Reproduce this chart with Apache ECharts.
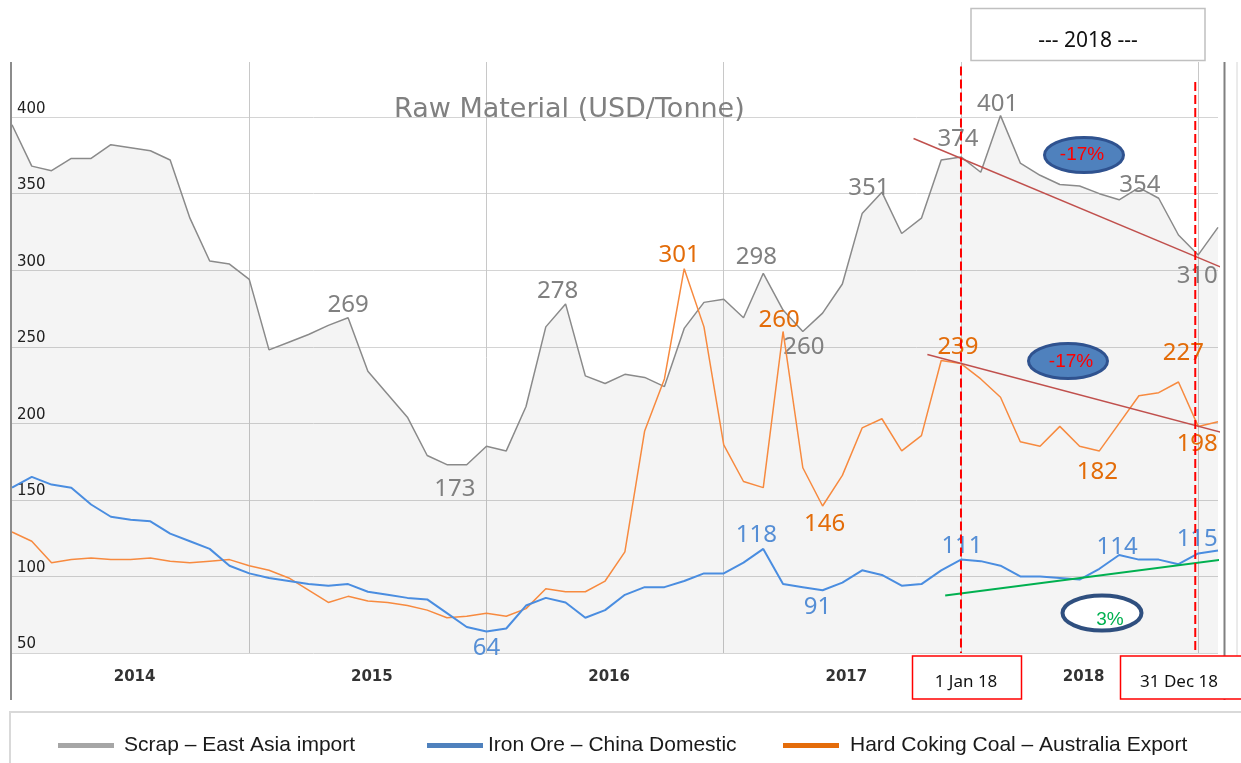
<!DOCTYPE html>
<html>
<head>
<meta charset="utf-8">
<title>Raw Material (USD/Tonne)</title>
<script src="https://cdn.jsdelivr.net/npm/echarts@6/dist/echarts.min.js"></script>
<style>
	html, body {
		width: 100%;
		height: 100%;
		margin: 0;
		padding: 0;
		background: #fff;
	}
	#main {
		width: 1241px;
		height: 763px;
	}
</style>
</head>
<body>
<div id="main"></div>
<script>
	// monthly categories, Jan 2014 .. Feb 2019
	var months = [];
	for (var y = 2014; y <= 2019; y++) {
		for (var m = 1; m <= 12; m++) {
			if (y === 2019 && m > 2) break;
			months.push(y + '-' + (m < 10 ? '0' + m : m));
		}
	}

	var names = ['Scrap – East Asia import', 'Iron Ore – China Domestic', 'Hard Coking Coal – Australia Export'];

	var scrap = [
		395, 368, 365, 373, 373, 382, 380, 378, 372, 334, 306, 304,
		294, 248, 253, 258, 264, 269, 234, 219, 204, 179, 173, 173,
		185, 182, 211, 263, 278, 231, 226, 232, 230, 224, 262, 279,
		281, 269, 298, 274, 260, 272, 291, 337, 351, 324, 334, 372,
		374, 364, 401, 370, 362, 356, 355, 350, 346, 354, 347, 323,
		310, 328
	];
	var ironOre = [
		158, 165, 160, 158, 147, 139, 137, 136, 128, 123, 118, 107,
		102, 99, 97, 95, 94, 95, 90, 88, 86, 85, 76, 67,
		64, 66, 81, 86, 83, 73, 78, 88, 93, 93, 97, 102,
		102, 109, 118, 95, 93, 91, 96, 104, 101, 94, 95, 104,
		111, 110, 107, 100, 100, 99, 98, 105, 114, 111, 111, 108,
		115, 117
	];
	var cokingCoal = [
		129, 123, 109, 111, 112, 111, 111, 112, 110, 109, 110, 111,
		107, 104, 99, 91, 83, 87, 84, 83, 81, 78, 73, 74,
		76, 74, 79, 92, 90, 90, 97, 116, 195, 229, 301, 263,
		186, 162, 158, 260, 171, 146, 166, 197, 203, 182, 192, 241,
		239, 229, 217, 188, 185, 198, 185, 182, 200, 218, 220, 227,
		198, 201
	];

	// annotation lines, in [month index, USD] space
	var scrapTrend = [[45.6, 386], [61.15, 302]];
	var coalTrend = [[46.3, 245], [61.8, 192]];
	var oreTrend = [[47.2, 87.5], [61.8, 112]];
	var startLine = [[48, 433], [48, 50]];
	var endLine = [[59.85, 423], [59.85, 50]];

	// which points carry a value label: index -> [position, dx, dy]
	var scrapLabels = {17: ['top', 0, 2], 22: ['bottom', 8, 5], 28: ['top', -8, 2], 38: ['top', -7, -1], 40: ['bottom', 1, -3],
		44: ['top', -13, 11], 48: ['top', -3, -3], 50: ['top', -3, 4], 57: ['top', 1, 13], 60: ['bottom', -1, 2]};
	var coalLabels = {34: ['top', -5, 1], 39: ['top', -4, 4], 41: ['bottom', 2, -1], 48: ['top', -3, -1],
		55: ['bottom', -2, 2], 59: ['top', 5, -14], 60: ['bottom', -1, -1]};
	var oreLabels = {24: ['bottom', 0, -2], 38: ['top', -7, 1], 41: ['bottom', -5, -2], 48: ['top', 1, 2],
		56: ['top', -2, 7], 60: ['top', -1, 1]};

	function labeled(values, spec, color) {
		return values.map(function(v, i) {
			var s = spec[i];
			if (!s) return v;
			return {
				value: v,
				label: {
					show: true,
					position: s[0],
					offset: [s[1], s[2] + 2],
					color: color,
					fontSize: 24,
					fontFamily: 'Noto Sans'
				}
			};
		});
	}

	function guide(data, color, width, dashed) {
		return {
			type: 'line',
			xAxisIndex: 1,
			data: data,
			symbol: 'none',
			silent: true,
			clip: false,
			z: 6,
			lineStyle: {color: color, width: width, type: dashed ? [9, 4] : 'solid'}
		};
	}

	function legendOf(name, left, color, pad) {
		return {
			data: [{name: name, itemStyle: {color: color}}],
			left: left,
			top: 730,
			icon: 'rect',
			itemWidth: 56,
			itemHeight: 5,
			selectedMode: false,
			textStyle: {fontFamily: 'Liberation Sans', fontSize: 21, color: '#1a1a1a', padding: [0, 0, 0, pad]}
		};
	}

	function ellipse(cx, cy, fill, stroke, lw, text, tx, ty, tcolor) {
		return [{
			type: 'ellipse',
			shape: {cx: cx, cy: cy, rx: 39.5, ry: 17.5},
			style: {fill: fill, stroke: stroke, lineWidth: lw},
			z: 20
		}, {
			type: 'text',
			style: {text: text, x: tx, y: ty, align: 'center', verticalAlign: 'middle',
				fontSize: 19, fontFamily: 'Liberation Sans', fill: tcolor},
			z: 21
		}];
	}

	function boxText(x, y, w, h, stroke, lw, text, tx, ty, size) {
		return [{
			type: 'rect',
			shape: {x: x, y: y, width: w, height: h},
			style: {fill: '#fff', stroke: stroke, lineWidth: lw},
			z: 20
		}, {
			type: 'text',
			style: {text: text, x: tx, y: ty, align: 'center', verticalAlign: 'middle',
				fontSize: size, fontFamily: 'Noto Sans', fill: '#111'},
			z: 21
		}];
	}

	var graphics = [
		{type: 'line', shape: {x1: 11, y1: 62, x2: 11, y2: 700}, style: {stroke: '#8c8c8c', lineWidth: 2}, z: 10},
		{type: 'line', shape: {x1: 1224.5, y1: 62, x2: 1224.5, y2: 700}, style: {stroke: '#808080', lineWidth: 2}, z: 10},
		{type: 'line', shape: {x1: 1237, y1: 62, x2: 1237, y2: 656}, style: {stroke: '#d6d6d6', lineWidth: 1}, z: 10},
		{type: 'rect', shape: {x: 10, y: 712, width: 1250, height: 70}, style: {fill: 'none', stroke: '#d9d9d9', lineWidth: 2}, z: 10}
	].concat(
		boxText(971, 8.5, 234, 52, '#c0c0c0', 1.5, '--- 2018 ---', 1088, 41, 21),
		boxText(912.5, 656, 109, 43, '#ff0000', 1.5, '1 Jan 18', 966, 682, 17),
		boxText(1120.5, 656, 130, 43, '#ff0000', 1.5, '31 Dec 18', 1179, 682, 17),
		ellipse(1084, 155, '#4f81bd', '#2f528f', 3, '-17%', 1082, 155, '#ff0000'),
		ellipse(1068, 361, '#4f81bd', '#2f528f', 3, '-17%', 1071, 362, '#ff0000'),
		ellipse(1102, 613, '#fff', '#2f4f7f', 4, '3%', 1110, 620, '#00b050')
	);

	function valueLine(name, values, labels, labelColor, color, width, z) {
		return {
			name: name,
			type: 'line',
			data: labeled(values, labels, labelColor),
			showSymbol: true,
			showAllSymbol: true,
			symbol: 'circle',
			symbolSize: 0,
			lineStyle: {color: color, width: width},
			itemStyle: {color: color},
			z: z
		};
	}

	var scrapSeries = valueLine(names[0], scrap, scrapLabels, '#808080', '#8a8a8a', 1.5, 2);
	scrapSeries.areaStyle = {color: 'rgba(0,0,0,0.06)'};

	var chart = echarts.init(document.getElementById('main'));
	chart.setOption({
		animation: false,
		backgroundColor: '#fff',
		title: {
			text: 'Raw Material (USD/Tonne)',
			left: 389,
			top: 91,
			textStyle: {fontFamily: 'DejaVu Sans', fontSize: 27, fontWeight: 'normal', color: '#808080'}
		},
		legend: [
			legendOf(names[0], 53, '#a6a6a6', 5),
			legendOf(names[1], 422, '#4f81bd', 0),
			legendOf(names[2], 778, '#e46c0a', 6)
		],
		grid: {left: 12, right: 23, top: 62, bottom: 110, outerBoundsMode: 'none'},
		xAxis: [{
			type: 'category',
			data: months,
			boundaryGap: false,
			axisLine: {show: false},
			axisTick: {show: false},
			axisLabel: {
				interval: function(i) { return i % 12 === 6; },
				formatter: function(v) { return v.slice(0, 4); },
				margin: 17,
				padding: [0, 0, 0, 8],
				fontFamily: 'DejaVu Sans',
				fontSize: 15,
				fontWeight: 'bold',
				color: '#333'
			},
			splitLine: {
				show: true,
				interval: function(i) { return i > 0 && i % 12 === 0; },
				lineStyle: {color: '#c8c8c8', width: 1}
			}
		}, {
			type: 'value',
			min: 0,
			max: months.length - 1,
			show: false
		}],
		yAxis: {
			type: 'value',
			min: 50,
			max: 436,
			interval: 50,
			axisLine: {show: false},
			axisTick: {show: false},
			axisLabel: {
				inside: true,
				verticalAlign: 'bottom',
				margin: 5,
				padding: [0, 0, 1, 0],
				showMaxLabel: false,
				formatter: function(v) { return v % 50 ? '' : v; },
				fontFamily: 'DejaVu Sans',
				fontSize: 15,
				color: '#222'
			},
			splitLine: {show: true, showMaxLine: false, lineStyle: {color: '#d4d4d4', width: 1}}
		},
		series: [
			scrapSeries,
			valueLine(names[2], cokingCoal, coalLabels, '#e36c09', '#f78a3f', 1.5, 3),
			valueLine(names[1], ironOre, oreLabels, '#558ed5', '#4a8de0', 2, 4),
			guide(scrapTrend, '#c0504d', 1.5, false),
			guide(coalTrend, '#c0504d', 1.5, false),
			guide(oreTrend, '#00b050', 2, false),
			guide(startLine, '#ff0000', 2, true),
			guide(endLine, '#ff0000', 2, true)
		],
		graphic: graphics
	});
</script>
</body>
</html>
